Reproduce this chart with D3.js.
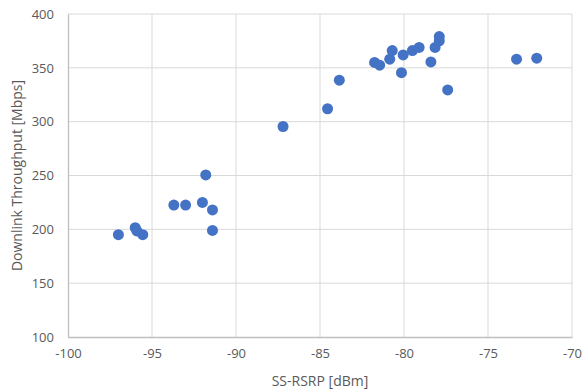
<!DOCTYPE html>
<html>
<head>
<meta charset="utf-8">
<script src="https://cdn.jsdelivr.net/npm/d3@7"></script>
<style>
  body { margin: 0; background: #fff; }
  svg text { font-family: "Open Sans", "Noto Sans", sans-serif; fill: #595959; }
</style>
</head>
<body>
<script>
// SS-RSRP [dBm] readings
const rsrp = [-97.0, -96.0, -95.9, -95.55, -93.7, -93.0, -92.0, -91.8, -91.4, -91.4,
  -87.2, -84.55, -83.85, -81.75, -81.45, -80.85, -80.7, -80.15, -80.05, -79.5,
  -79.1, -78.4, -78.15, -77.9, -77.9, -77.4, -73.3, -72.1];
// Downlink throughput [Mbps]
const throughput = [195, 201.5, 198.5, 195, 222.5, 222.5, 225, 250.5, 218, 199,
  295.5, 312, 338.5, 355, 352.5, 358, 366, 345.5, 362, 366,
  369, 355.5, 369, 375, 379, 329.5, 358, 359];

const xTicks = [-100, -95, -90, -85, -80, -75, -70];
const yTicks = [100, 150, 200, 250, 300, 350, 400];

const width = 585, height = 390;
const margin = { top: 14, right: 13, bottom: 53, left: 68 };

const svg = d3.select("body").append("svg")
  .attr("width", width)
  .attr("height", height);

const x = d3.scaleLinear().domain([-100, -70]).range([margin.left, width - margin.right]);
const y = d3.scaleLinear().domain([100, 400]).range([height - margin.bottom, margin.top]);

// gridlines
svg.append("g")
  .selectAll("line")
  .data(yTicks.slice(1))
  .join("line")
  .attr("x1", x(-100)).attr("x2", x(-70))
  .attr("y1", d => y(d)).attr("y2", d => y(d))
  .attr("stroke", "#d9d9d9").attr("stroke-width", 1);

svg.append("g")
  .selectAll("line")
  .data(xTicks.slice(1))
  .join("line")
  .attr("y1", y(100)).attr("y2", y(400))
  .attr("x1", d => x(d)).attr("x2", d => x(d))
  .attr("stroke", "#d9d9d9").attr("stroke-width", 1);

// axes (plain hyphen for negatives, like the original)
const xAxis = svg.append("g")
  .attr("transform", `translate(0,${y(100)})`)
  .call(d3.axisBottom(x).tickValues(xTicks).tickFormat(d => String(d)).tickSize(0).tickPadding(12));
const yAxis = svg.append("g")
  .attr("transform", `translate(${x(-100)},0)`)
  .call(d3.axisLeft(y).tickValues(yTicks).tickSize(0).tickPadding(14));

[xAxis, yAxis].forEach(a => {
  a.select(".domain").attr("stroke", "#bfbfbf").attr("stroke-width", 1.3);
  a.selectAll("text").attr("font-size", 13).attr("fill", "#595959");
});

// points
svg.append("g")
  .selectAll("circle")
  .data(rsrp.map((v, i) => ({ x: v, y: throughput[i] })))
  .join("circle")
  .attr("cx", d => x(d.x))
  .attr("cy", d => y(d.y))
  .attr("r", 5.5)
  .attr("fill", "#4472c4");

// axis titles
svg.append("text")
  .attr("x", (x(-100) + x(-70)) / 2)
  .attr("y", 386)
  .attr("text-anchor", "middle")
  .attr("font-size", 14)
  .text("SS-RSRP [dBm]");

svg.append("text")
  .attr("transform", `translate(22,${(y(100) + y(400)) / 2}) rotate(-90)`)
  .attr("text-anchor", "middle")
  .attr("font-size", 14)
  .text("Downlink Throughput [Mbps]");
</script>
</body>
</html>
